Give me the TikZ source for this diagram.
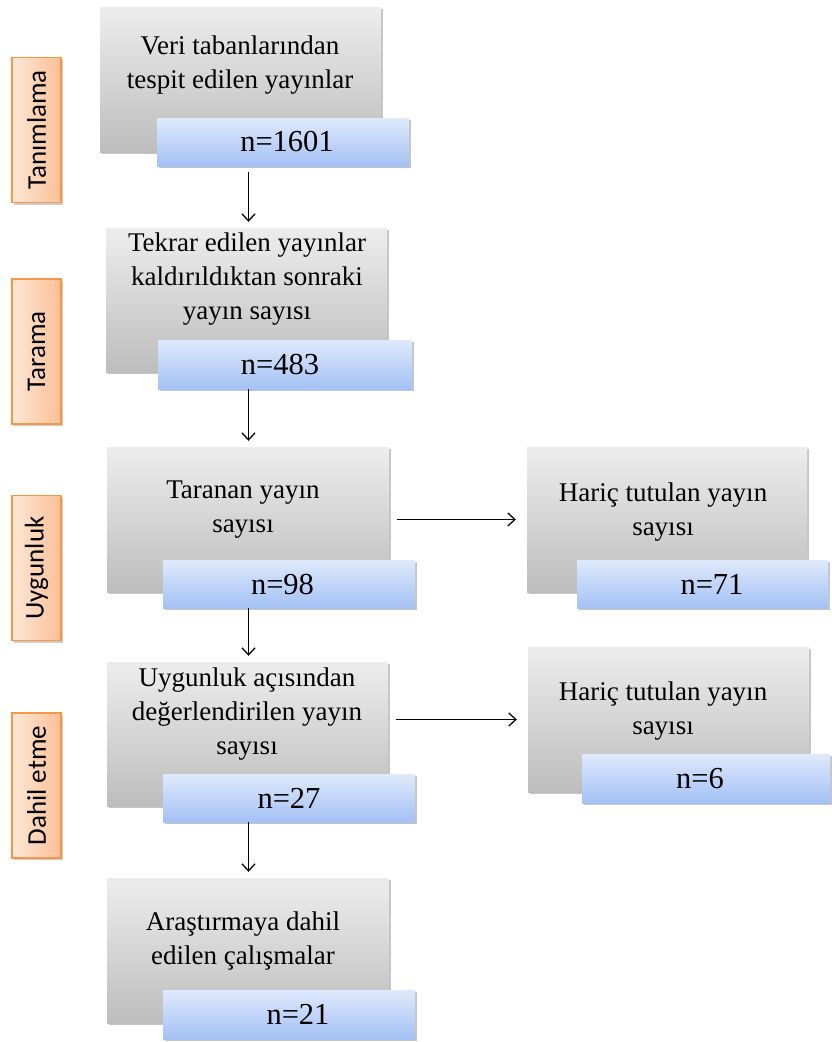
\documentclass[tikz,border=0pt]{standalone}
\usepackage{fontspec}
\setmainfont{Liberation Serif}
\newfontfamily\lblfont{Carlito}
\usetikzlibrary{arrows.meta,shadows}
\definecolor{gtop}{HTML}{EDEDED}
\definecolor{gbot}{HTML}{BDBDBD}
\definecolor{btop}{HTML}{DFE9FC}
\definecolor{bbot}{HTML}{A3C1F4}
\definecolor{olight}{HTML}{FDE7D6}
\definecolor{odark}{HTML}{FBC096}
\definecolor{oborder}{HTML}{F79646}
\tikzset{
  gbox/.style={rectangle, inner sep=0pt, top color=gtop, bottom color=gbot, draw=none,
    drop shadow={shadow xshift=1.5pt, shadow yshift=-2pt, opacity=0.45}},
  bbox/.style={rectangle, inner sep=0pt, minimum height=48pt, top color=btop, bottom color=bbot, draw=none,
    drop shadow={shadow xshift=1.5pt, shadow yshift=-2pt, opacity=0.45},
    font=\fontsize{30.5}{34}\selectfont},
  btext/.style={align=center, inner sep=0pt, font=\fontsize{27}{34}\selectfont},
  lbl/.style={rectangle, rotate=90, inner sep=0pt, minimum width=145pt, minimum height=49pt,
    left color=olight, right color=odark, draw=oborder, line width=1.2pt,
    drop shadow={shadow xshift=1.5pt, shadow yshift=-2pt, opacity=0.4},
    font=\lblfont\fontsize{27}{30}\selectfont},
  arr/.style={line width=1.3pt, -{Straight Barb[length=7pt,width=13pt,line width=1.3pt]}}
}
\begin{document}
\begin{tikzpicture}[x=1pt,y=-1pt]
\useasboundingbox[fill=white] (0,0) rectangle (831,1042);

% side labels
\node[lbl] (L1) at (36.5,130) {Tanımlama};
\node[lbl] (L2) at (36.5,351.5) {Tarama};
\node[lbl] (L3) at (36.5,568) {Uygunluk};
\node[lbl] (L4) at (36.5,785.5) {Dahil etme};

% gray boxes
\node[gbox, minimum width=281pt, minimum height=145pt] (g1) at (240.5,79.5) {};
\node[gbox, minimum width=281pt, minimum height=144pt] (g2) at (246.5,300) {};
\node[gbox, minimum width=282pt, minimum height=145pt] (g3) at (248,519.5) {};
\node[gbox, minimum width=280pt, minimum height=145pt] (g3r) at (667,519.5) {};
\node[gbox, minimum width=281pt, minimum height=144pt] (g4) at (247.5,734) {};
\node[gbox, minimum width=281pt, minimum height=145pt] (g4r) at (668.5,719.5) {};
\node[gbox, minimum width=282pt, minimum height=145pt] (g5) at (248,950.5) {};

% texts
\node[btext] (t1) at (240,65) {Veri tabanlarından\\tespit edilen yayınlar};
\node[btext] (t2) at (247,279) {Tekrar edilen yayınlar\\kaldırıldıktan sonraki\\yayın sayısı};
\node[btext] (t3) at (243,510) {Taranan yayın\\sayısı};
\node[btext] (t3r) at (663,512) {Hariç tutulan yayın\\sayısı};
\node[btext] (t4) at (247,714) {Uygunluk açısından\\değerlendirilen yayın\\sayısı};
\node[btext] (t4r) at (663,711) {Hariç tutulan yayın\\sayısı};
\node[btext] (t5) at (243,941) {Araştırmaya dahil\\edilen çalışmalar};

% blue boxes
\node[bbox, minimum width=252pt] (b1) at (283,142) {\hspace*{8pt}n=1601};
\node[bbox, minimum width=254pt, minimum height=49pt] (b2) at (285,364.5) {n=483\hspace*{10pt}};
\node[bbox, minimum width=252pt] (b3) at (289,584) {n=98\hspace*{13pt}};
\node[bbox, minimum width=251pt] (b3r) at (702.5,584) {\hspace*{19pt}n=71};
\node[bbox, minimum width=252pt] (b4) at (289,798) {n=27};
\node[bbox, minimum width=248pt, minimum height=49pt] (b4r) at (706,778.5) {n=6\hspace*{12pt}};
\node[bbox, minimum width=252pt, minimum height=49pt] (b5) at (289,1014.5) {\hspace*{18pt}n=21};

% connectors
\coordinate (ax) at (248.5,0);
\draw[arr, shorten <=6pt, shorten >=6pt] (b1.south -| ax) -- (g2.north -| ax);
\draw[arr, shorten <=0pt, shorten >=6pt] (b2.south -| ax) -- (g3.north -| ax);
\draw[arr, shorten <=0pt, shorten >=6pt] (b3.south -| ax) -- (g4.north -| ax);
\draw[arr, shorten <=0pt, shorten >=6pt] (b4.south -| ax) -- (g5.north -| ax);
\draw[arr, shorten <=8pt, shorten >=11pt] (g3.east |- g3r.west) -- (g3r.west);
\draw[arr, shorten <=8pt, shorten >=11pt] (g4.east |- g4r.west) -- (g4r.west);
\end{tikzpicture}
\end{document}
